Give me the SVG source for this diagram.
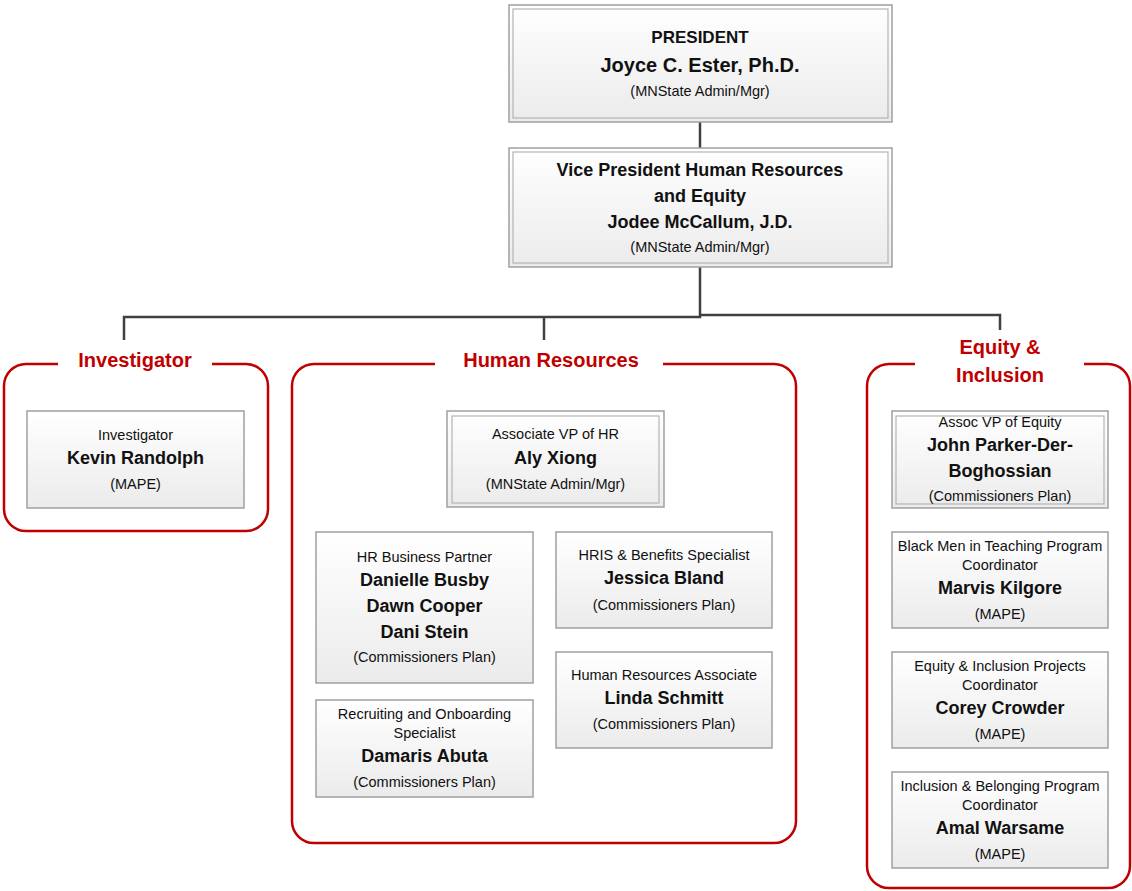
<svg xmlns="http://www.w3.org/2000/svg" width="1132" height="891" viewBox="0 0 1132 891">
<defs>
<linearGradient id="nodeFill" x1="0" y1="0" x2="0" y2="1">
<stop offset="0" stop-color="#ffffff"/>
<stop offset="1" stop-color="#ebebeb"/>
</linearGradient>
</defs>
<style>
.box{fill:url(#nodeFill);stroke:#a0a0a0;stroke-width:1.5}
.inner{fill:none;stroke:#b4b4b4;stroke-width:1.2}
.grp{fill:none;stroke:#c00000;stroke-width:2.5}
.conn{fill:none;stroke:#404040;stroke-width:2.5}
text{font-family:"Liberation Sans",Arial,sans-serif;text-anchor:middle;fill:#111}
.s{font-size:14.5px}
.n{font-size:18px;font-weight:bold}
.t{font-size:20px;font-weight:bold;fill:#c00000}
</style>
<rect width="1132" height="891" fill="#ffffff"/>

<g id="connectors">
<path class="conn" d="M700,122 V148"/>
<path class="conn" d="M700,267 V317 H124 V340"/>
<path class="conn" d="M544,317 V340"/>
<path class="conn" d="M700,315 H1000 V330"/>
</g>

<g id="group-investigator">
<path class="grp" d="M58,364 H26 A22,22 0 0 0 4,386 V509 A22,22 0 0 0 26,531 H246 A22,22 0 0 0 268,509 V386 A22,22 0 0 0 246,364 H212"/>
<text class="t" x="135" y="367">Investigator</text>
</g>
<g id="group-hr">
<path class="grp" d="M435,364 H314 A22,22 0 0 0 292,386 V821 A22,22 0 0 0 314,843 H774 A22,22 0 0 0 796,821 V386 A22,22 0 0 0 774,364 H663"/>
<text class="t" x="551" y="367">Human Resources</text>
</g>
<g id="group-equity">
<path class="grp" d="M915,364 H889 A22,22 0 0 0 867,386 V866 A22,22 0 0 0 889,888 H1108 A22,22 0 0 0 1130,866 V386 A22,22 0 0 0 1108,364 H1084"/>
<text class="t" x="1000" y="354">Equity &amp;</text>
<text class="t" x="1000" y="382">Inclusion</text>
</g>

<g id="president">
<rect class="box" x="509" y="5" width="383" height="117"/>
<rect class="inner" x="513" y="9" width="375" height="109"/>
<text x="700" y="43" style="font-size:17px;font-weight:bold">PRESIDENT</text>
<text x="700" y="72" style="font-size:20px;font-weight:bold">Joyce C. Ester, Ph.D.</text>
<text class="s" x="700" y="96">(MNState Admin/Mgr)</text>
</g>

<g id="vp">
<rect class="box" x="509" y="148" width="383" height="119"/>
<rect class="inner" x="513" y="152" width="375" height="111"/>
<text class="n" x="700" y="176">Vice President Human Resources</text>
<text class="n" x="700" y="202">and Equity</text>
<text class="n" x="700" y="228">Jodee McCallum, J.D.</text>
<text class="s" x="700" y="252">(MNState Admin/Mgr)</text>
</g>

<g id="investigator">
<rect class="box" x="27" y="411" width="217" height="97"/>
<text class="s" x="135.5" y="440">Investigator</text>
<text class="n" x="135.5" y="464">Kevin Randolph</text>
<text class="s" x="135.5" y="489">(MAPE)</text>
</g>

<g id="assoc-vp-hr">
<rect class="box" x="447" y="411" width="217" height="96"/>
<rect class="inner" x="452" y="416" width="207" height="87"/>
<text class="s" x="555.5" y="439">Associate VP of HR</text>
<text class="n" x="555.5" y="464">Aly Xiong</text>
<text class="s" x="555.5" y="489">(MNState Admin/Mgr)</text>
</g>

<g id="hr-business-partner">
<rect class="box" x="316" y="532" width="217" height="151"/>
<text class="s" x="424.5" y="562">HR Business Partner</text>
<text class="n" x="424.5" y="586">Danielle Busby</text>
<text class="n" x="424.5" y="612">Dawn Cooper</text>
<text class="n" x="424.5" y="638">Dani Stein</text>
<text class="s" x="424.5" y="662">(Commissioners Plan)</text>
</g>

<g id="recruiting">
<rect class="box" x="316" y="700" width="217" height="97"/>
<text class="s" x="424.5" y="719">Recruiting and Onboarding</text>
<text class="s" x="424.5" y="738">Specialist</text>
<text class="n" x="424.5" y="762">Damaris Abuta</text>
<text class="s" x="424.5" y="787">(Commissioners Plan)</text>
</g>

<g id="hris">
<rect class="box" x="556" y="532" width="216" height="96"/>
<text class="s" x="664" y="560">HRIS &amp; Benefits Specialist</text>
<text class="n" x="664" y="584">Jessica Bland</text>
<text class="s" x="664" y="610">(Commissioners Plan)</text>
</g>

<g id="hr-associate">
<rect class="box" x="556" y="652" width="216" height="96"/>
<text class="s" x="664" y="680">Human Resources Associate</text>
<text class="n" x="664" y="704">Linda Schmitt</text>
<text class="s" x="664" y="729">(Commissioners Plan)</text>
</g>

<g id="assoc-vp-equity">
<rect class="box" x="892" y="411" width="216" height="97"/>
<rect class="inner" x="896" y="416" width="208" height="88"/>
<text class="s" x="1000" y="427">Assoc VP of Equity</text>
<text class="n" x="1000" y="451">John Parker-Der-</text>
<text class="n" x="1000" y="477">Boghossian</text>
<text class="s" x="1000" y="501">(Commissioners Plan)</text>
</g>

<g id="black-men-teaching">
<rect class="box" x="892" y="532" width="216" height="96"/>
<text class="s" x="1000" y="551">Black Men in Teaching Program</text>
<text class="s" x="1000" y="570">Coordinator</text>
<text class="n" x="1000" y="594">Marvis Kilgore</text>
<text class="s" x="1000" y="619">(MAPE)</text>
</g>

<g id="equity-projects">
<rect class="box" x="892" y="652" width="216" height="96"/>
<text class="s" x="1000" y="671">Equity &amp; Inclusion Projects</text>
<text class="s" x="1000" y="690">Coordinator</text>
<text class="n" x="1000" y="714">Corey Crowder</text>
<text class="s" x="1000" y="739">(MAPE)</text>
</g>

<g id="inclusion-belonging">
<rect class="box" x="892" y="772" width="216" height="96"/>
<text class="s" x="1000" y="791">Inclusion &amp; Belonging Program</text>
<text class="s" x="1000" y="810">Coordinator</text>
<text class="n" x="1000" y="834">Amal Warsame</text>
<text class="s" x="1000" y="859">(MAPE)</text>
</g>
</svg>
